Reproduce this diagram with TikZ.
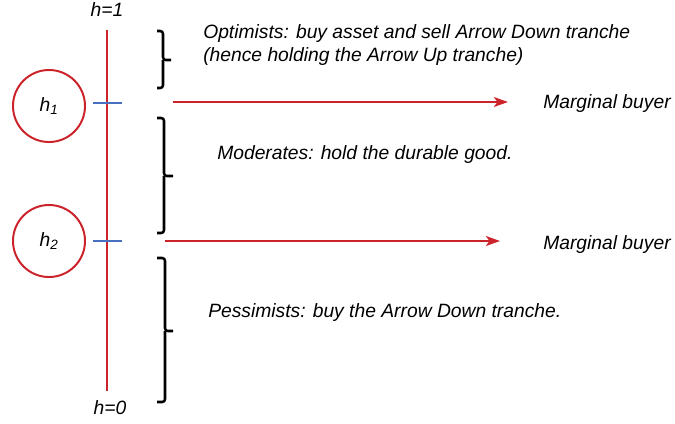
\documentclass[tikz,border=0pt]{standalone}
\usepackage{fontspec}
\setmainfont{Liberation Sans}
\usetikzlibrary{arrows.meta}
\definecolor{linered}{RGB}{204,34,41}
\definecolor{tickblue}{RGB}{72,112,190}
\tikzstyle{txt}=[inner sep=0pt,font=\fontsize{13.7}{17}\selectfont\itshape]
\tikzstyle{agent}=[circle,draw=linered,line width=1.4pt,minimum size=1.8cm,inner sep=0pt,font=\fontsize{13.7}{17}\selectfont\itshape]
\tikzstyle{axis}=[draw=linered,line width=1.8pt]
\tikzstyle{tick}=[draw=tickblue,line width=1.8pt]
\tikzstyle{cut}=[draw=linered,line width=1.8pt,-{Stealth[length=10pt,width=7pt,inset=2.5pt]}]
\tikzstyle{group}=[draw=black,line width=1.8pt,rounded corners=2pt]

\begin{document}
\begin{tikzpicture}[x=0.025cm,y=-0.025cm]
\useasboundingbox (0,0) rectangle (675,423);
% the h scale
\coordinate(top) at (107,30);
\coordinate(bottom) at (107,391);
\draw[axis](top)--(bottom);
\node(hone)[txt] at (107,10){h=1};
\node(hzero)[txt] at (110,408){h=0};
% marginal types
\node(hfirst)[agent] at (49,106){h\textsubscript{1}};
\node(hsecond)[agent] at (49,241){h\textsubscript{2}};
\draw[tick](93,103)--(122,103);
\draw[tick](93,241)--(122,241);
\coordinate(cutonestart) at (173,102);
\coordinate(cutoneend) at (508,102);
\coordinate(cuttwostart) at (165,241);
\coordinate(cuttwoend) at (500,241);
\draw[cut](cutonestart)--(cutoneend);
\draw[cut](cuttwostart)--(cuttwoend);
\node(buyerone)[txt,anchor=west] at (543,104){Marginal buyer};
\node(buyertwo)[txt,anchor=west] at (543,245){Marginal buyer};
% groups
\draw[group](157,31)-|(163,60)--(171,60);
\draw[group](163,60)|-(157,88);
\draw[group](157,118)-|(164,176)--(173,176);
\draw[group](164,176)|-(157,233);
\draw[group](157,258)-|(165,331)--(173,331);
\draw[group](165,331)|-(157,402);
\node(optimists)[txt,anchor=west,align=left] at (203,45){Optimists: buy asset and sell Arrow Down tranche\\(hence holding the Arrow Up tranche)};
\node(moderates)[txt,anchor=west] at (217,155){Moderates: hold the durable good.};
\node(pessimists)[txt,anchor=west] at (208,313){Pessimists: buy the Arrow Down tranche.};
\end{tikzpicture}
\end{document}
